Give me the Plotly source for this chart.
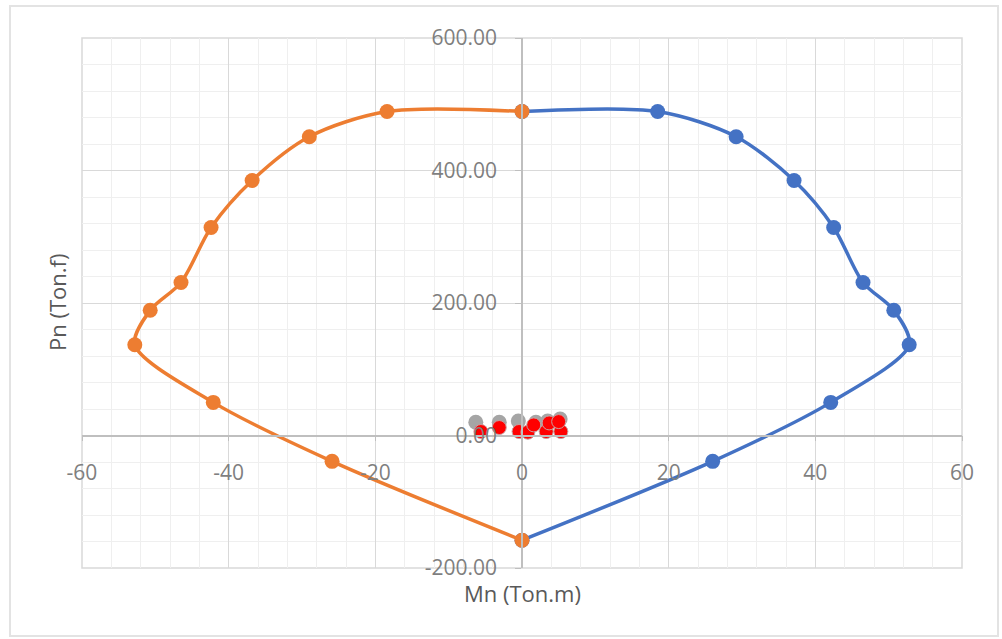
import plotly.graph_objects as go

# Interaction diagram: nominal moment Mn (Ton.m) vs nominal axial load Pn (Ton.f)
mn_pos = [0.0, 18.5, 29.2, 37.1, 42.5, 46.5, 50.7, 52.8, 42.1, 26.0, 0.0]
pn_pos = [489, 489, 451, 385, 314, 231, 189, 137, 50, -39, -158]

mn_neg = [0.0, -18.4, -29.0, -36.8, -42.4, -46.5, -50.7, -52.8, -42.1, -25.9, 0.0]
pn_neg = [489, 489, 451, 385, 314, 231, 189, 137, 50, -39, -158]

# Applied load combinations
mn_demand_a = [-6.3, -3.1, -0.5, 1.9, 3.5, 5.2]
pn_demand_a = [20, 20, 22, 20, 22, 25]

mn_demand_b = [-5.6, -3.1, -0.4, 0.8, 3.3, 5.3, 1.6, 3.7, 5.0]
pn_demand_b = [6, 12, 6, 5, 6, 6, 16, 19, 21]

x_ticks = [-60, -40, -20, 0, 20, 40, 60]
x_tick_text = ["-60", "-40", "-20", "0", "20", "40", "60"]
y_ticks = [-200, 0, 200, 400, 600]
y_tick_text = ["-200.00", "0.00", "200.00", "400.00", "600.00"]

BLUE = "#4472C4"
ORANGE = "#ED7D31"
GRAY = "#A5A5A5"
RED = "#FF0000"
FONT = "Open Sans"

fig = go.Figure()

fig.add_trace(go.Scatter(
    x=mn_pos, y=pn_pos, mode="lines+markers",
    line=dict(color=BLUE, width=3.5, shape="spline", smoothing=0.85),
    marker=dict(color=BLUE, size=15),
))
fig.add_trace(go.Scatter(
    x=mn_neg, y=pn_neg, mode="lines+markers",
    line=dict(color=ORANGE, width=3.5, shape="spline", smoothing=0.85),
    marker=dict(color=ORANGE, size=15),
))
fig.add_trace(go.Scatter(
    x=mn_demand_a, y=pn_demand_a, mode="markers",
    marker=dict(color=GRAY, size=15),
))
fig.add_trace(go.Scatter(
    x=mn_demand_b, y=pn_demand_b, mode="markers",
    marker=dict(color=RED, size=14, line=dict(color="#c8a0a0", width=1)),
))

fig.update_layout(
    width=1002, height=639,
    margin=dict(l=82, r=40, t=38, b=71),
    paper_bgcolor="white", plot_bgcolor="white",
    showlegend=False,
    font=dict(family=FONT, size=21, color="#7f7f7f"),
    xaxis=dict(
        range=[-60, 60], tickvals=x_ticks, ticktext=x_tick_text,
        anchor="free", position=0.25,
        showline=True, linecolor="#bfbfbf", linewidth=1.5,
        ticks="outside", ticklen=5, tickcolor="#bfbfbf",
        ticklabelstandoff=14,
        showgrid=True, gridcolor="#d9d9d9", gridwidth=1,
        zeroline=False,
        minor=dict(tickmode="linear", tick0=-60, dtick=4, showgrid=True,
                   gridcolor="#efefef", gridwidth=1),
        tickfont=dict(family=FONT, size=21, color="#7f7f7f"),
    ),
    yaxis=dict(
        range=[-200, 600], tickvals=y_ticks, ticktext=y_tick_text,
        anchor="free", position=0.5, side="left",
        showline=True, linecolor="#bfbfbf", linewidth=1.5,
        ticks="outside", ticklen=6, tickcolor="#bfbfbf",
        ticklabelstandoff=14,
        showgrid=True, gridcolor="#d9d9d9", gridwidth=1,
        zeroline=False,
        minor=dict(tickmode="linear", tick0=-200, dtick=40, showgrid=True,
                   gridcolor="#efefef", gridwidth=1),
        tickfont=dict(family=FONT, size=21, color="#7f7f7f"),
    ),
    annotations=[
        dict(text="Mn (Ton.m)", xref="paper", yref="paper", x=0.5, y=0,
             xanchor="center", yanchor="top", yshift=-8, showarrow=False,
             font=dict(family=FONT, size=22, color="#595959")),
        dict(text="Pn (Ton.f)", xref="paper", yref="paper", x=0, y=0.5,
             xanchor="center", yanchor="middle", xshift=-25, textangle=-90,
             showarrow=False,
             font=dict(family=FONT, size=22, color="#595959")),
    ],
    shapes=[
        # plot area frame
        dict(type="rect", xref="paper", yref="paper", x0=0, y0=0, x1=1, y1=1,
             line=dict(color="#d9d9d9", width=1.5), layer="below"),
        # chart area frame
        dict(type="rect", xref="paper", yref="paper",
             x0=-72 / 880, y0=-68 / 530, x1=1 + 36 / 880, y1=1 + 32 / 530,
             line=dict(color="#e3e3e3", width=2), layer="below"),
    ],
)

fig.write_html("out.html")
